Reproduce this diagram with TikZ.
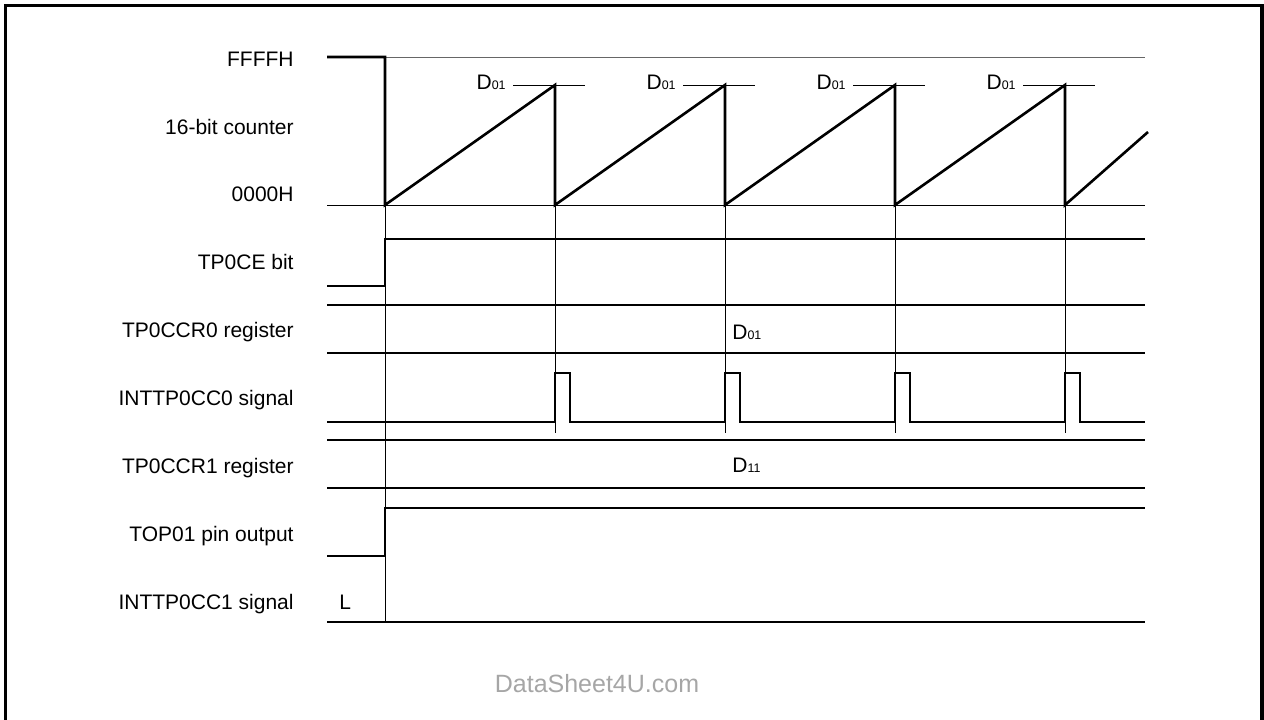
\documentclass[tikz,border=0pt]{standalone}
\usepackage{fontspec}
\setmainfont{Liberation Sans}
\usepackage{xcolor}

\tikzset{
  wave/.style={line width=1.3pt, line join=miter},
  guide/.style={line width=0.5pt},
  signame/.style={anchor=base east, inner sep=0pt, font=\fontsize{10.5}{12}\selectfont},
  busval/.style={anchor=base west, inner sep=0pt, font=\fontsize{10.5}{12}\selectfont},
  peakval/.style={anchor=base east, inner sep=0pt, font=\fontsize{10.5}{12}\selectfont},
}
\newcommand{\dval}[1]{D{\fontsize{6.2}{7}\selectfont #1}}

\begin{document}
\begin{tikzpicture}[x=0.5pt, y=-0.5pt]
\useasboundingbox (0,0) rectangle (1264,719);

% Frame
\draw[line width=1.6pt] (5.5,730) -- (5.5,5.5) -- (1262,5.5) -- (1262,730);

% Signal names
\node[signame] (ffff)  at (294,66)  {FFFFH};
\node[signame] (cnt)   at (294,134) {16-bit counter};
\node[signame] (zero)  at (294,201) {0000H};
\node[signame] (tpce)  at (294,269) {TP0CE bit};
\node[signame] (ccr0)  at (294,337) {TP0CCR0 register};
\node[signame] (int0)  at (294,405) {INTTP0CC0 signal};
\node[signame] (ccr1)  at (294,473) {TP0CCR1 register};
\node[signame] (top01) at (294,541) {TOP01 pin output};
\node[signame] (int1)  at (294,609) {INTTP0CC1 signal};

% Edges in time
\coordinate (t0) at (385,0);
\coordinate (t1) at (555,0);
\coordinate (t2) at (725,0);
\coordinate (t3) at (895,0);
\coordinate (t4) at (1065,0);

% Counter levels
\draw[guide, gray!80!black] (385,57) -- (1145,57);
\draw[guide] (327,205) -- (1145,205);

% Counter
\draw[wave] (327,57) -- (385,57) -- (385,205)
  -- (555,85) -- (555,205)
  -- (725,85) -- (725,205)
  -- (895,85) -- (895,205)
  -- (1065,85) -- (1065,205)
  -- (1148,132);

% Compare value marks
\node[peakval] (d1) at (506,89) {\dval{01}};
\node[peakval] (d2) at (676,89) {\dval{01}};
\node[peakval] (d3) at (846,89) {\dval{01}};
\node[peakval] (d4) at (1016,89) {\dval{01}};
\draw[guide] (513,85) -- (585,85);
\draw[guide] (683,85) -- (755,85);
\draw[guide] (853,85) -- (925,85);
\draw[guide] (1023,85) -- (1095,85);

% Guide lines
\draw[guide] (385,205) -- (385,622);
\draw[guide] (555,205) -- (555,433);
\draw[guide] (725,205) -- (725,433);
\draw[guide] (895,205) -- (895,433);
\draw[guide] (1065,205) -- (1065,433);

% TP0CE bit
\draw[wave] (327,286) -- (385,286) -- (385,239) -- (1145,239);

% TP0CCR0 register
\draw[wave] (327,305) -- (1145,305);
\draw[wave] (327,353) -- (1145,353);
\node[busval] (v0) at (732,339) {\dval{01}};

% INTTP0CC0 signal
\draw[wave] (327,422) -- (555,422) -- (555,373) -- (570,373) -- (570,422)
  -- (725,422) -- (725,373) -- (740,373) -- (740,422)
  -- (895,422) -- (895,373) -- (910,373) -- (910,422)
  -- (1065,422) -- (1065,373) -- (1080,373) -- (1080,422)
  -- (1145,422);

% TP0CCR1 register
\draw[wave] (327,440) -- (1145,440);
\draw[wave] (327,488) -- (1145,488);
\node[busval] (v1) at (732,472) {\dval{11}};

% TOP01 pin output
\draw[wave] (327,556) -- (385,556) -- (385,508) -- (1145,508);

% INTTP0CC1 signal
\draw[wave] (327,622) -- (1145,622);
\node[busval] (low) at (339,609) {L};

% Watermark
\node[font=\fontsize{12.5}{14}\selectfont, text=black!35] (wm) at (597,684) {DataSheet4U.com};

\end{tikzpicture}
\end{document}
